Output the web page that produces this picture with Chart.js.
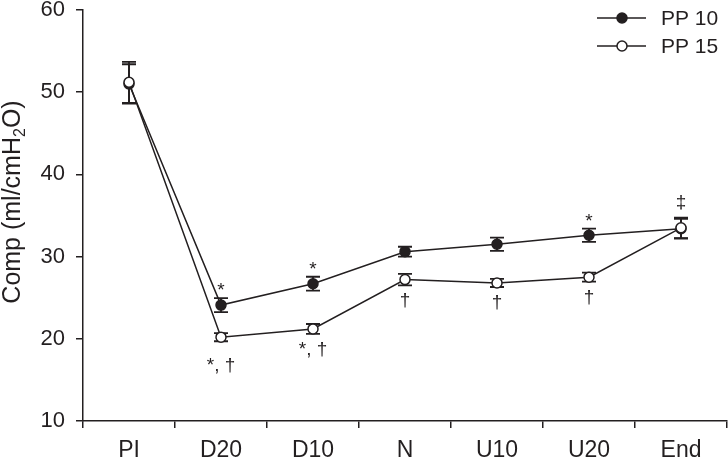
<!DOCTYPE html>
<html>
<head>
<meta charset="utf-8">
<script src="https://cdn.jsdelivr.net/npm/chart.js@4"></script>
<style>
  body { margin: 0; background: #fff; }
  #wrap { width: 728px; height: 458px; }
</style>
</head>
<body>
<div id="wrap"><canvas id="compChart"></canvas></div>
<script>
const categories = ['PI', 'D20', 'D10', 'N', 'U10', 'U20', 'End'];
const pp10 = [51.0, 24.1, 26.7, 30.6, 31.5, 32.6, 33.4];
const pp10Err = [2.4, 0.85, 0.85, 0.6, 0.8, 0.8, 1.2];
const pp15 = [51.2, 20.2, 21.2, 27.2, 26.8, 27.5, 33.5];
const pp15Err = [2.5, 0.5, 0.6, 0.7, 0.5, 0.55, 1.25];
const marksAbove = ['', '*', '*', '', '', '*', '\u2021'];
const marksBelow = ['', '*, \u2020', '*, \u2020', '\u2020', '\u2020', '\u2020', ''];
const yTicks = [10, 20, 30, 40, 50, 60];
const yTitle = ['Comp (ml/cmH', '2', 'O)'];

const ink = '#231f20';
const font = '"Liberation Sans", Arial, sans-serif';

// error bars, drawn under the markers
const errorBars = {
    id: 'errorBars',
    beforeDatasetsDraw(chart) {
        const ctx = chart.ctx;
        const y = chart.scales.y;
        const sets = [[0, pp10, pp10Err], [1, pp15, pp15Err]];
        ctx.save();
        ctx.strokeStyle = ink;
        ctx.lineWidth = 1.8;
        sets.forEach(([idx, vals, errs]) => {
            const meta = chart.getDatasetMeta(idx);
            meta.data.forEach((pt, i) => {
                const top = y.getPixelForValue(vals[i] + errs[i]);
                const bot = y.getPixelForValue(vals[i] - errs[i]);
                ctx.beginPath();
                ctx.moveTo(pt.x, top); ctx.lineTo(pt.x, bot);
                ctx.moveTo(pt.x - 7, top); ctx.lineTo(pt.x + 7, top);
                ctx.moveTo(pt.x - 7, bot); ctx.lineTo(pt.x + 7, bot);
                ctx.stroke();
            });
        });
        ctx.restore();
    }
};

// significance marks, legend, y title with subscript
const extras = {
    id: 'extras',
    afterDatasetsDraw(chart) {
        const ctx = chart.ctx;
        const y = chart.scales.y;
        const m10 = chart.getDatasetMeta(0);
        const m15 = chart.getDatasetMeta(1);
        ctx.save();
        ctx.fillStyle = ink;
        ctx.font = '19px ' + font;
        ctx.textAlign = 'center';
        ctx.textBaseline = 'alphabetic';
        marksAbove.forEach((s, i) => {
            if (!s) return;
            const top = Math.min(y.getPixelForValue(pp10[i] + pp10Err[i]), y.getPixelForValue(pp15[i] + pp15Err[i]));
            ctx.fillText(s, m10.data[i].x, top - (s === '*' ? 2 : 10));
        });
        marksBelow.forEach((s, i) => {
            if (!s) return;
            const bot = y.getPixelForValue(pp15[i] - pp15Err[i]);
            ctx.fillText(s, m15.data[i].x, bot + (i === 1 ? 30 : 21));
        });

        // legend
        const rows = [['PP 10', ink, 18], ['PP 15', '#fff', 46]];
        ctx.font = '21px ' + font;
        ctx.textAlign = 'left';
        ctx.textBaseline = 'middle';
        ctx.lineWidth = 1.5;
        rows.forEach(([label, fill, ly]) => {
            ctx.strokeStyle = ink;
            ctx.beginPath();
            ctx.moveTo(597, ly); ctx.lineTo(646, ly);
            ctx.stroke();
            ctx.beginPath();
            ctx.arc(622, ly, 5, 0, Math.PI * 2);
            ctx.fillStyle = fill;
            ctx.fill();
            ctx.stroke();
            ctx.fillStyle = ink;
            ctx.fillText(label, 661, ly + 1);
        });

        // y axis title
        ctx.translate(20, 202);
        ctx.rotate(-Math.PI / 2);
        ctx.textBaseline = 'alphabetic';
        ctx.textAlign = 'left';
        const big = '25px ' + font, small = '16px ' + font;
        ctx.font = big;
        const w0 = ctx.measureText(yTitle[0]).width;
        const w2 = ctx.measureText(yTitle[2]).width;
        ctx.font = small;
        const w1 = ctx.measureText(yTitle[1]).width;
        let x = -(w0 + w1 + w2) / 2;
        ctx.font = big;
        ctx.fillText(yTitle[0], x, 0);
        x += w0;
        ctx.font = small;
        ctx.fillText(yTitle[1], x, 5);
        x += w1;
        ctx.font = big;
        ctx.fillText(yTitle[2], x, 0);
        ctx.restore();
    }
};

new Chart(document.getElementById('compChart'), {
    type: 'line',
    data: {
        labels: categories,
        datasets: [
            {
                label: 'PP 10',
                data: pp10,
                borderColor: ink,
                borderWidth: 1.5,
                pointRadius: 5,
                pointBackgroundColor: ink,
                pointBorderColor: ink,
                pointBorderWidth: 1.5,
                tension: 0,
                order: 2
            },
            {
                label: 'PP 15',
                data: pp15,
                borderColor: ink,
                borderWidth: 1.5,
                pointRadius: 5,
                pointBackgroundColor: '#fff',
                pointBorderColor: ink,
                pointBorderWidth: 1.5,
                tension: 0,
                order: 1
            }
        ]
    },
    options: {
        responsive: true,
        maintainAspectRatio: false,
        animation: false,
        layout: { autoPadding: false, padding: { top: 10, right: 1, left: 0, bottom: 0 } },
        plugins: {
            legend: { display: false },
            tooltip: { enabled: false }
        },
        scales: {
            x: {
                offset: true,
                grid: {
                    offset: true,
                    drawOnChartArea: false,
                    drawTicks: true,
                    tickLength: 7,
                    color: ink,
                    lineWidth: 1.5
                },
                border: { color: ink, width: 1.5 },
                ticks: { color: ink, font: { family: font, size: 23, lineHeight: 1 }, padding: 11, maxRotation: 0 },
                afterFit(scale) {
                    scale.height = 37;
                    scale.paddingLeft = 0;
                    scale.paddingRight = 0;
                }
            },
            y: {
                min: 10,
                max: 60,
                afterBuildTicks(scale) { scale.ticks = yTicks.map(v => ({ value: v })); },
                grid: {
                    drawOnChartArea: false,
                    drawTicks: true,
                    tickLength: 7,
                    color: ink,
                    lineWidth: 1.5
                },
                border: { color: ink, width: 1.5 },
                ticks: { color: ink, font: { family: font, size: 22, lineHeight: 1 }, padding: 11 },
                afterFit(scale) {
                    scale.width = 83;
                    scale.paddingTop = 0;
                    scale.paddingBottom = 0;
                }
            }
        }
    },
    plugins: [errorBars, extras]
});
</script>
</body>
</html>
